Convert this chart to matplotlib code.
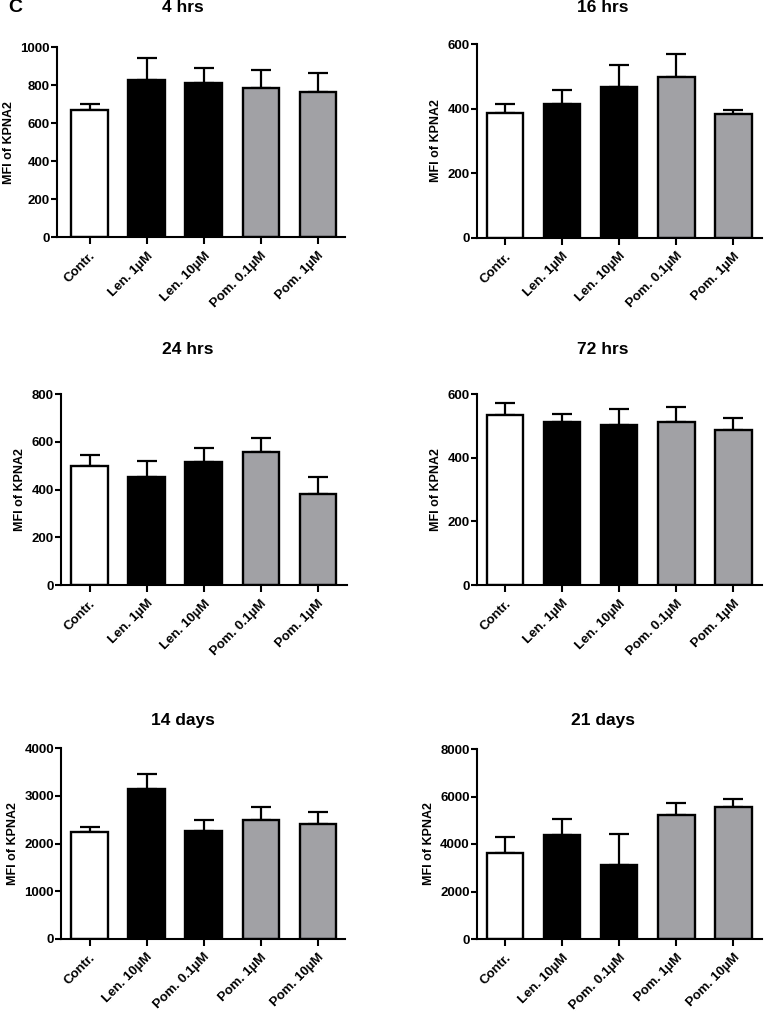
import matplotlib
matplotlib.use("Agg")
import matplotlib.pyplot as plt
import numpy as np

plt.rcParams['font.family'] = ['Liberation Sans', 'DejaVu Sans']
plt.rcParams['font.weight'] = 'bold'

# groups
groups_short = ['Contr.', 'Len. 1\u00b5M', 'Len. 10\u00b5M', 'Pom. 0.1\u00b5M', 'Pom. 1\u00b5M']
groups_long = ['Contr.', 'Len. 10\u00b5M', 'Pom. 0.1\u00b5M', 'Pom. 1\u00b5M', 'Pom. 10\u00b5M']
bar_colors = ['white', 'black', 'black', '#a1a1a5', '#a1a1a5']

# mean values and upper error (SEM) per time point
titles = ['4 hrs', '16 hrs', '24 hrs', '72 hrs', '14 days', '21 days']
mean_4h = [670, 828, 812, 786, 767]
err_4h = [33, 114, 79, 95, 100]
mean_16h = [388, 416, 467, 500, 385]
err_16h = [26, 42, 69, 70, 10]
mean_24h = [499, 453, 517, 559, 382]
err_24h = [45, 66, 59, 58, 71]
mean_72h = [535, 514, 503, 514, 488]
err_72h = [37, 24, 50, 47, 36]
mean_14d = [2249, 3138, 2263, 2494, 2403]
err_14d = [98, 323, 224, 266, 252]
mean_21d = [3621, 4379, 3116, 5207, 5572]
err_21d = [674, 674, 1319, 505, 309]

ymax = [1000, 600, 800, 600, 4000, 8000]
ystep = [200, 200, 200, 200, 1000, 2000]

# axes boxes in pixels: left, right, top, bottom
boxes = [(56.7, 345, 47.3, 237.3), (476.7, 761.7, 44.3, 237.7),
         (61, 346.7, 394.3, 585), (476.7, 761.7, 394.3, 585),
         (61, 345, 748.3, 938.7), (476.7, 761.7, 749, 939)]
first_tick = [89.5, 505, 89.5, 505, 89.5, 505]

means = [mean_4h, mean_16h, mean_24h, mean_72h, mean_14d, mean_21d]
errs = [err_4h, err_16h, err_24h, err_72h, err_14d, err_21d]
labels = [groups_short] * 4 + [groups_long] * 2

W, H = 764, 1015
fig = plt.figure(figsize=(W / 100, H / 100), dpi=100)

for i in range(6):
    l, r, t, b = boxes[i]
    ax = fig.add_axes([l / W, 1 - b / H, (r - l) / W, (b - t) / H])
    x = np.arange(5)
    spacing = 57.1
    ax.errorbar(x, means[i], yerr=[np.zeros(5), errs[i]], fmt='none', ecolor='black',
                elinewidth=1.6, capsize=7, capthick=1.6, zorder=1)
    ax.bar(x, means[i], width=0.64, color=bar_colors, edgecolor='black', linewidth=1.7, zorder=2)
    ax.set_xlim((l - first_tick[i]) / spacing, (r - first_tick[i]) / spacing)
    ax.set_ylim(0, ymax[i])
    ax.set_yticks(np.arange(0, ymax[i] + 1, ystep[i]))
    ax.set_xticks(x)
    ax.set_xticklabels(labels[i], rotation=45, ha='right', rotation_mode='anchor')
    for s in ['top', 'right']:
        ax.spines[s].set_visible(False)
    for s in ['left', 'bottom']:
        ax.spines[s].set_linewidth(1.5)
    ax.tick_params(axis='both', width=1.5)
    ax.tick_params(axis='y', length=4, pad=1, labelsize=9.5)
    ax.tick_params(axis='x', length=5, pad=4, labelsize=9.5)
    for lab in ax.get_xticklabels() + ax.get_yticklabels():
        lab.set_fontweight('bold')
    ax.set_ylabel('MFI of KPNA2', fontsize=9, fontweight='bold', labelpad=4)

# titles at absolute positions
title_pos = [(183, 8), (603, 7), (188, 350), (603, 350), (183, 720), (603, 720)]
for (tx, ty), tt in zip(title_pos, titles):
    fig.text(tx / W, 1 - ty / H, tt, ha='center', va='center', fontsize=12.5, fontweight='bold')

fig.text(8 / W, 1 - 8 / H, 'C', ha='left', va='center', fontsize=14, fontweight='bold')

fig.savefig('out.png', dpi=100)
